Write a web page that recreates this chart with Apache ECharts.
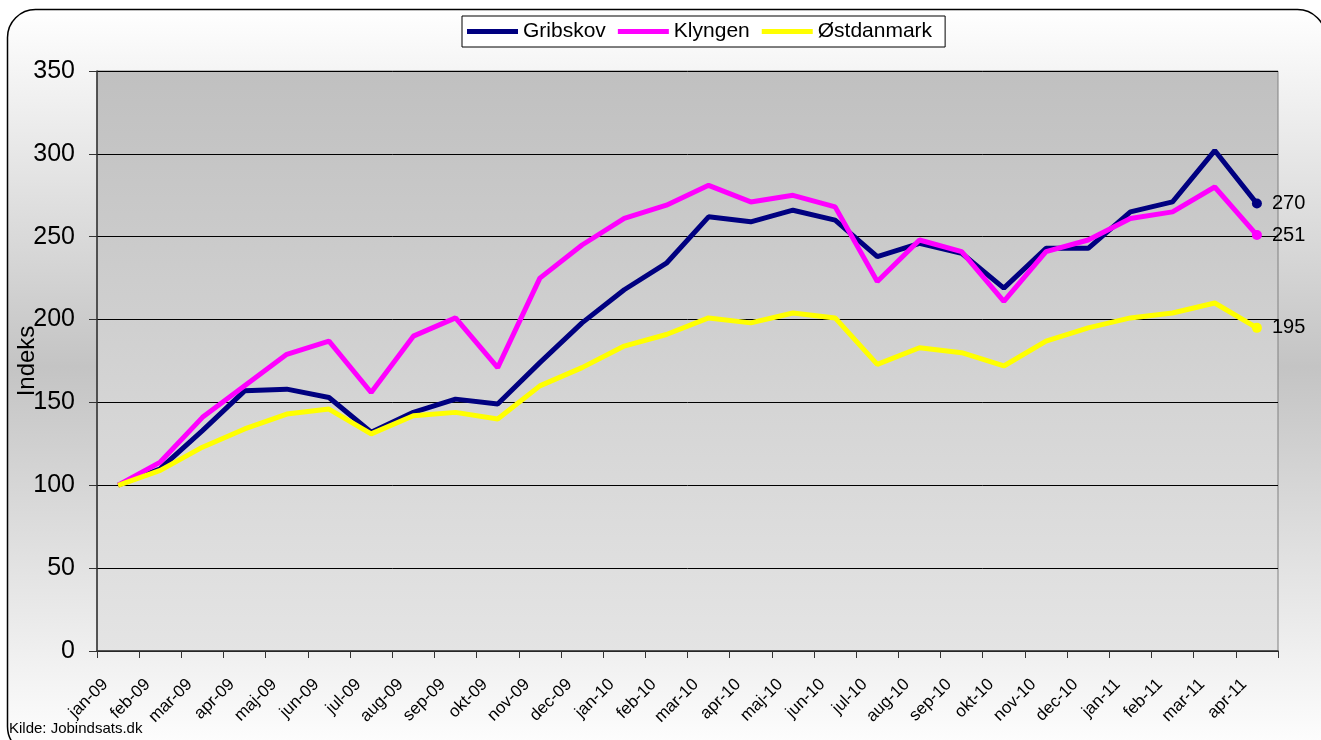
<!DOCTYPE html>
<html>
<head>
<meta charset="utf-8">
<script src="https://cdn.jsdelivr.net/npm/echarts@6/dist/echarts.min.js"></script>
<style>
  html, body { margin: 0; padding: 0; background: #fff; }
  #main { width: 1321px; height: 740px; }
</style>
</head>
<body>
<div id="main"></div>
<script>
var months = ['jan-09','feb-09','mar-09','apr-09','maj-09','jun-09','jul-09','aug-09','sep-09','okt-09','nov-09','dec-09',
  'jan-10','feb-10','mar-10','apr-10','maj-10','jun-10','jul-10','aug-10','sep-10','okt-10','nov-10','dec-10',
  'jan-11','feb-11','mar-11','apr-11'];
var gribskov = [100, 110, 133, 157, 158, 153, 132, 144, 152, 149, 174, 198, 218, 234, 262, 259, 266, 260, 238, 246, 240, 219, 243, 243, 265, 271, 302, 270];
var klyngen = [100, 114, 141, 160, 179, 187, 156, 190, 201, 171, 225, 245, 261, 269, 281, 271, 275, 268, 223, 248, 241, 211, 241, 248, 261, 265, 280, 251];
var ostdanmark = [100, 109, 123, 134, 143, 146, 131, 142, 144, 140, 160, 171, 184, 191, 201, 198, 204, 201, 173, 183, 180, 172, 187, 195, 201, 204, 210, 195];
var yTicks = [0, 50, 100, 150, 200, 250, 300, 350];

var chart = echarts.init(document.getElementById('main'));
var last = months.length - 1;
var font = 'Liberation Sans, Arial, sans-serif';

function mkSeries(name, data, color) {
  return {
    name: name,
    type: 'line',
    data: data,
    symbol: 'circle',
    symbolSize: function (v, p) { return p.dataIndex === last ? 10 : 0; },
    lineStyle: { width: 5, color: color },
    itemStyle: { color: color },
    endLabel: { show: true, formatter: '{c}', color: '#000', fontSize: 20, fontFamily: font, distance: 15 },
    emphasis: { disabled: true },
    animation: false
  };
}

chart.setOption({
  backgroundColor: '#fff',
  graphic: [
    {
      type: 'rect', z: -10, silent: true,
      shape: { x: 7.5, y: 9.5, width: 1318, height: 745, r: 28 },
      style: {
        fill: new echarts.graphic.LinearGradient(0, 0, 0, 1, [
          { offset: 0, color: '#ffffff' },
          { offset: 0.48, color: '#c4c4c4' },
          { offset: 1, color: '#ffffff' }
        ]),
        stroke: '#000', lineWidth: 1.5
      }
    },
    {
      type: 'text', left: 9, top: 721,
      style: { text: 'Kilde: Jobindsats.dk', fontSize: 15, fill: '#000', fontFamily: 'Liberation Sans Narrow, Liberation Sans, sans-serif' }
    }
  ],
  legend: {
    top: 16,
    left: 462,
    data: ['Gribskov', 'Klyngen', 'Østdanmark'],
    icon: 'rect',
    itemWidth: 51,
    itemHeight: 5,
    itemGap: 12,
    padding: [5, 13, 5, 5],
    backgroundColor: '#fff',
    borderColor: '#000',
    borderWidth: 1,
    textStyle: { fontSize: 21, color: '#000', fontFamily: font }
  },
  grid: {
    left: 97, right: 43, top: 71, bottom: 89,
    outerBoundsMode: 'none',
    containLabel: false,
    show: true,
    borderColor: '#808080',
    borderWidth: 1,
    backgroundColor: new echarts.graphic.LinearGradient(0, 0, 0, 1, [
      { offset: 0, color: '#c0c0c0' },
      { offset: 1, color: '#e4e4e4' }
    ])
  },
  xAxis: {
    type: 'category',
    data: months,
    boundaryGap: true,
    axisLine: { lineStyle: { color: '#333', width: 1.5 } },
    axisTick: { show: true, length: 7, lineStyle: { color: '#333' } },
    axisLabel: { rotate: 45, interval: 0, fontSize: 17, color: '#000', fontFamily: font, margin: 18, padding: [0, 18, 0, 0] }
  },
  yAxis: {
    type: 'value',
    min: 0, max: 350, interval: 50,
    name: 'Indeks',
    nameLocation: 'middle',
    nameGap: 58,
    nameMoveOverlap: false,
    nameRotate: 90,
    nameTextStyle: { fontSize: 24, color: '#000', fontFamily: font },
    axisLine: { show: true, lineStyle: { color: '#333', width: 1.5 } },
    axisTick: { show: true, length: 8, lineStyle: { color: '#333' } },
    axisLabel: {
      fontSize: 25, color: '#000', fontFamily: font, margin: 22,
      formatter: function (v) { return yTicks.indexOf(v) >= 0 ? String(v) : ''; }
    },
    splitLine: { show: true, lineStyle: { color: '#000', width: 1 } }
  },
  series: [
    mkSeries('Gribskov', gribskov, '#000080'),
    mkSeries('Klyngen', klyngen, '#ff00ff'),
    mkSeries('Østdanmark', ostdanmark, '#ffff00')
  ]
});
</script>
</body>
</html>
